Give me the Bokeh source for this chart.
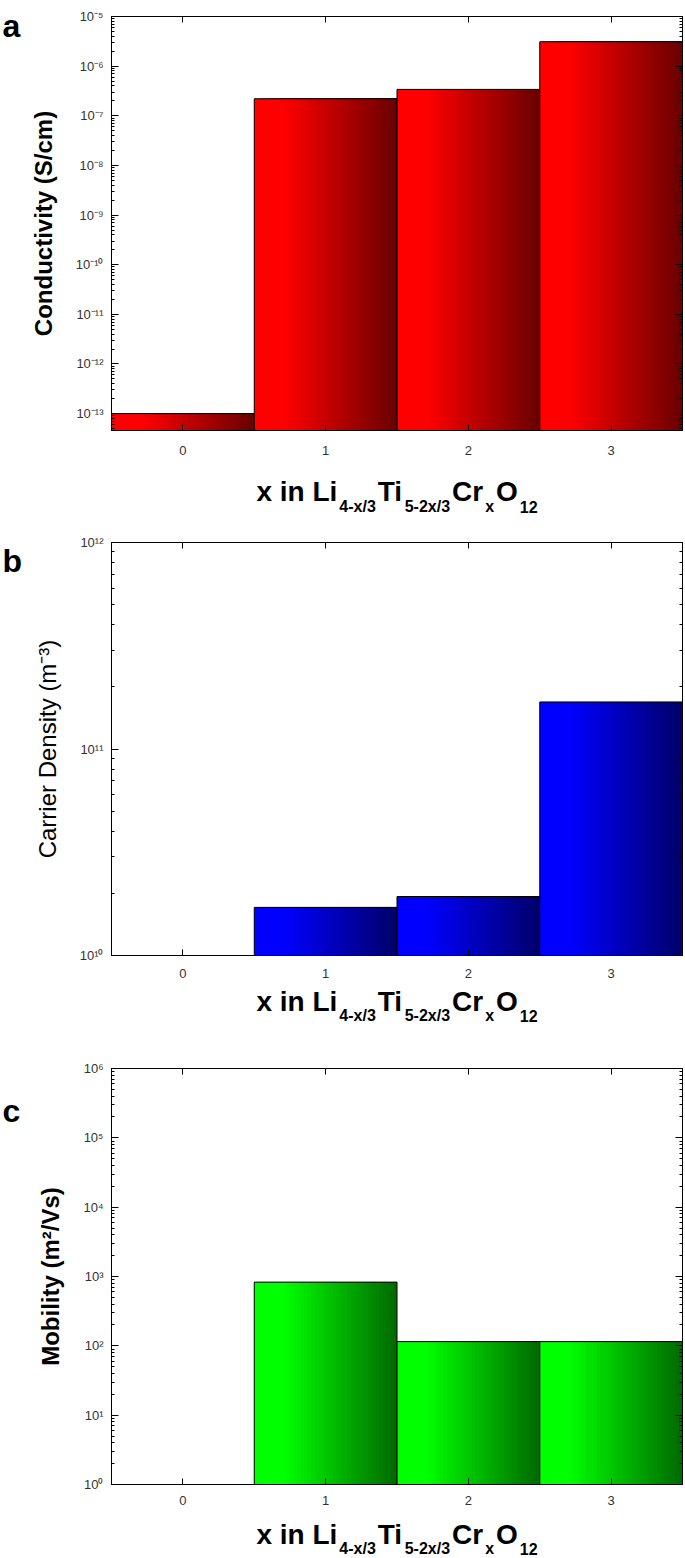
from bokeh.plotting import figure
from bokeh.models import (FixedTicker, LinearAxis, LogAxis, Range1d,
                          CustomJSTickFormatter, ColumnDataSource)
from bokeh.core.properties import value
from bokeh.layouts import column, row
from bokeh.embed import file_html
from bokeh.resources import INLINE

# ---------------- data ----------------
x_values = [0, 1, 2, 3]
x_tick_labels = ["0", "1", "2", "3"]
conductivity = [1.0e-13, 2.2e-7, 3.4e-7, 3.1e-6]        # S/cm
carrier_density = [None, 1.71e10, 1.93e10, 1.69e11]    # m^-3
mobility = [None, 830.0, 115.0, 115.0]                 # m^2/Vs

FONT = "Liberation Sans"
TOTAL_W = 684
LETTER_W = 26
MAIN_W = TOTAL_W - LETTER_W
BORDER_LEFT = 85          # frame starts at x = 111
BORDER_RIGHT = 2

SUP = CustomJSTickFormatter(code="""
const e = Math.round(Math.log10(tick));
const m = {"-":"\u207b","0":"\u2070","1":"\u00b9","2":"\u00b2","3":"\u00b3","4":"\u2074",
           "5":"\u2075","6":"\u2076","7":"\u2077","8":"\u2078","9":"\u2079"};
return "10" + String(e).split("").map(c => m[c]).join("");
""")
BLANK = CustomJSTickFormatter(code="return '';")

# x-axis title: x in Li_{4-x/3} Ti_{5-2x/3} Cr_x O_12
TITLE_PIECES = [("x in Li", False), ("4-x/3", True), ("Ti", False), ("5-2x/3", True),
                ("Cr", False), ("x", True), ("O", False), ("12", True)]
MAIN_SIZE, SUB_SIZE, GAP = 28, 16, 2
# approximate advance widths of Liberation Sans Bold (per 1000 em)
ADV = {"x": 556, " ": 278, "i": 278, "n": 611, "L": 611, "T": 611, "C": 722, "r": 389,
       "O": 778, "-": 333, "/": 278}
for d in "0123456789":
    ADV[d] = 556


def text_w(s, size):
    return sum(ADV.get(c, 556) for c in s) * size / 1000.0


def shade(rgb, t):
    f = 1.0 if t < 0.2 else 1.0 - (t - 0.2) / 0.8 * 0.58
    return "#%02x%02x%02x" % tuple(int(round(c * f)) for c in rgb)


def blank_fig(w, h):
    f = figure(width=w, height=h, output_backend="svg", toolbar_location=None, title=None,
               x_range=Range1d(0, w), y_range=Range1d(h, 0),
               x_axis_type=None, y_axis_type=None, min_border=0,
               min_border_left=0, min_border_right=0, min_border_top=0, min_border_bottom=0)
    f.outline_line_color = None
    f.xgrid.visible = False
    f.ygrid.visible = False
    return f


def make_main(values, y_start, y_end, e_min, e_max, ylabel, ylabel_style, rgb,
              height, b_top, b_bottom, tick_standoff):
    p = figure(width=MAIN_W, height=height, output_backend="svg", toolbar_location=None,
               title=None, x_range=Range1d(-0.5, 3.5), y_range=Range1d(y_start, y_end),
               y_axis_type="log", min_border_left=BORDER_LEFT, min_border_right=BORDER_RIGHT,
               min_border_top=b_top, min_border_bottom=b_bottom)
    p.xgrid.visible = False
    p.ygrid.visible = False
    p.outline_line_color = "black"
    p.outline_line_width = 1

    major = [10.0 ** e for e in range(e_min, e_max + 1)]
    minor = [m * 10.0 ** e for e in range(e_min - 1, e_max + 1) for m in range(2, 10)
             if y_start <= m * 10.0 ** e <= y_end]
    yt = FixedTicker(ticks=major, minor_ticks=minor)
    xt = FixedTicker(ticks=x_values, minor_ticks=[])

    # gradient bars: overlapping strips from left to right, then a black outline
    N = 40
    for xv, v in zip(x_values, values):
        if v is None:
            continue
        src = ColumnDataSource(dict(
            left=[xv - 0.5 + k / N for k in range(N)],
            right=[xv + 0.5] * N,
            top=[v] * N,
            bottom=[y_start] * N,
            color=[shade(rgb, k / (N - 1)) for k in range(N)]))
        p.quad(left="left", right="right", top="top", bottom="bottom", source=src,
               fill_color="color", line_color=None)
        p.quad(left=[xv - 0.5], right=[xv + 0.5], top=[v], bottom=[y_start],
               fill_alpha=0, line_color="black", line_width=1)

    ya = p.yaxis[0]
    ya.ticker = yt
    ya.formatter = SUP
    ya.major_tick_in = 7
    ya.major_tick_out = 0
    ya.minor_tick_in = 3
    ya.minor_tick_out = 0
    ya.major_label_standoff = 8
    ya.major_label_text_font = FONT
    ya.major_label_text_font_size = "13px"
    ya.major_label_text_color = "#333333"
    ya.axis_label = ylabel
    ya.axis_label_text_font = FONT
    ya.axis_label_text_font_size = "24px"
    ya.axis_label_text_font_style = ylabel_style
    ya.axis_label_text_color = "black"
    ya.axis_label_standoff = 16
    ya.axis_line_color = "black"

    ra = LogAxis(ticker=yt, formatter=BLANK, major_tick_in=7, major_tick_out=0,
                 minor_tick_in=3, minor_tick_out=0, major_label_standoff=0,
                 axis_line_color="black")
    p.add_layout(ra, "right")

    xa = p.xaxis[0]
    xa.ticker = xt
    xa.major_label_overrides = {xv: lab for xv, lab in zip(x_values, x_tick_labels)}
    xa.major_tick_in = 6
    xa.major_tick_out = 0
    xa.minor_tick_in = 0
    xa.minor_tick_out = 0
    xa.major_label_standoff = tick_standoff
    xa.major_label_text_font = FONT
    xa.major_label_text_font_size = "13px"
    xa.major_label_text_color = "#333333"
    xa.axis_line_color = "black"

    ta = LinearAxis(ticker=xt, formatter=BLANK, major_tick_in=6, major_tick_out=0,
                    minor_tick_in=0, minor_tick_out=0, major_label_standoff=0,
                    axis_line_color="black")
    p.add_layout(ta, "above")
    return p


def make_letter(letter, height, mid):
    f = blank_fig(LETTER_W, height)
    f.text(x=[2], y=[mid], text=[letter], text_font=value(FONT),
           text_font_size=value("32px"), text_font_style="bold",
           text_align="left", text_baseline="middle", text_color="black")
    return f


def make_title(height, base_mid, sub_mid):
    f = blank_fig(TOTAL_W, height)
    frame_center = LETTER_W + BORDER_LEFT + (MAIN_W - BORDER_LEFT - BORDER_RIGHT) / 2.0
    widths = [text_w(t, SUB_SIZE if s else MAIN_SIZE) for t, s in TITLE_PIECES]
    total = sum(widths) + GAP * (len(widths) - 1)
    x = frame_center - total / 2.0
    for (t, s), w in zip(TITLE_PIECES, widths):
        f.text(x=[x], y=[sub_mid if s else base_mid], text=[t], text_font=value(FONT),
               text_font_size=value("%dpx" % (SUB_SIZE if s else MAIN_SIZE)),
               text_font_style="bold", text_align="left", text_baseline="middle",
               text_color="black")
        x += w + GAP
    return f


# panel a
ma = make_main(conductivity, 10 ** -13.34, 1e-5, -13, -5, "Conductivity (S/cm)", "bold",
               (255, 0, 0), 458, 16, 28, 15)
la = make_letter("a", 458, 10)
ta = make_title(62, 33, 48)

# panel b
mb = make_main(carrier_density, 1e10, 1e12, 10, 12, "Carrier Density (m\u207b\u00b3)", "normal",
               (0, 0, 255), 463, 22, 28, 13)
lb = make_letter("b", 463, 21)
tb = make_title(57, 18, 32)

# panel c
mc = make_main(mobility, 1.0, 1e6, 0, 6, "Mobility (m\u00b2/Vs)", "bold",
               (0, 255, 0), 472, 28, 28, 11)
lc = make_letter("c", 472, 48)
tc = make_title(46, 22, 36)

layout = column(row(la, ma, spacing=0), ta,
                row(lb, mb, spacing=0), tb,
                row(lc, mc, spacing=0), tc, spacing=0)
open("out.html", "w").write(file_html(layout, INLINE))
